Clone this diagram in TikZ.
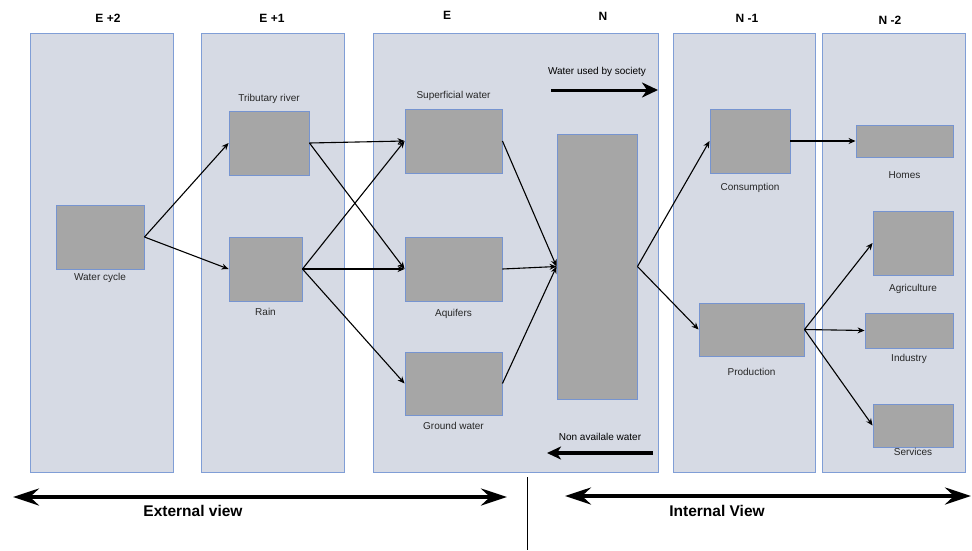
\documentclass[tikz,border=0pt]{standalone}
\usepackage{fontspec}
\setmainfont{Liberation Sans}
\usetikzlibrary{arrows.meta}

\definecolor{panelfill}{RGB}{214,218,228}
\definecolor{panelline}{RGB}{128,158,214}
\definecolor{boxfill}{RGB}{166,166,166}
\definecolor{boxline}{RGB}{118,148,208}

\begin{document}
\begin{tikzpicture}[x=1pt,y=-1pt,font=\fontsize{10}{12}\selectfont,
	panel/.style={fill=panelfill,draw=panelline,line width=1pt},
	box/.style={rectangle,fill=boxfill,draw=boxline,line width=0.9pt,inner sep=0pt},
	every label/.style={inner sep=0pt,text=black!85},
	head/.style={font=\fontsize{12}{14}\selectfont\bfseries},
	view/.style={font=\fontsize{15.5}{18}\selectfont\bfseries},
	edge/.style={line width=1.1pt,-{Stealth[length=7pt,width=6pt]}},
	bigarrow/.style={line width=4pt,{Stealth[length=26pt,width=17pt,inset=9pt]}-{Stealth[length=26pt,width=17pt,inset=9pt]}}]

			\useasboundingbox (0,0) rectangle (972,550);

			%panels
			\draw[panel] (30,33) rectangle (173,472);
			\draw[panel] (201,33) rectangle (344,472);
			\draw[panel] (373,33) rectangle (658,472);
			\draw[panel] (673,33) rectangle (815,472);
			\draw[panel] (822,33) rectangle (965,472);

			%headers
			\node[head] (h1) at (108,18) {E +2};
			\node[head] (h2) at (272,18) {E +1};
			\node[head] (h3) at (447,15) {E};
			\node[head] (h4) at (603,16) {N};
			\node[head] (h5) at (747,18) {N -1};
			\node[head] (h6) at (890,20) {N -2};

			%external nodes
			\node[box,minimum width=88pt,minimum height=64pt,label={[label distance=4pt]below:Water cycle}] (n1) at (100,237) {};
			\node[box,minimum width=80pt,minimum height=64pt,label={[label distance=7pt]above:Tributary river}] (n2) at (269,143) {};
			\node[box,minimum width=73pt,minimum height=64pt,label={[label distance=7pt]below:Rain}] (n3) at (265.5,269) {};

			%E nodes
			\node[box,minimum width=97pt,minimum height=64pt,label={[label distance=8pt]above:Superficial water}] (n4) at (453.5,141) {};
			\node[box,minimum width=97pt,minimum height=64pt,label={[label distance=8pt]below:Aquifers}] (n5) at (453.5,269) {};
			\node[box,minimum width=97pt,minimum height=63pt,label={[label distance=7pt]below:Ground water}] (n6) at (453.5,383.5) {};

			%N node
			\node[box,minimum width=80pt,minimum height=265pt] (n7) at (597,266.5) {};
			\node (t1) at (597,72) {Water used by society};
			\node (t2) at (600,437) {Non availale water};
			\coordinate (u1) at (551,90);
			\coordinate (u2) at (658,90);
			\coordinate (v1) at (653,453);
			\coordinate (v2) at (547,453);
			\draw[line width=3pt,-{Stealth[length=16pt,width=15pt,inset=5pt]}] (u1) -- (u2);
			\draw[line width=3.5pt,-{Stealth[length=14pt,width=13pt,inset=4pt]}] (v1) -- (v2);

			%internal nodes
			\node[box,minimum width=80pt,minimum height=64pt,label={[label distance=10pt]below:Consumption}] (n8) at (750,141) {};
			\node[box,minimum width=105pt,minimum height=53pt,label={[label distance=12pt]below:Production}] (n9) at (751.5,329.5) {};
			\node[box,minimum width=97pt,minimum height=32pt,label={[label distance=14pt]below:Homes}] (n10) at (904.5,141) {};
			\node[box,minimum width=80pt,minimum height=64pt,label={[label distance=9pt]below:Agriculture}] (n11) at (913,243) {};
			\node[box,minimum width=88pt,minimum height=35pt,label={[label distance=6pt]below:Industry}] (n12) at (909,330.5) {};
			\node[box,minimum width=80pt,minimum height=43pt,label={[label distance=1pt]below:Services}] (n13) at (913,425.5) {};

			%edges
			\draw[edge] (n1.east) -- (n2.west);
			\draw[edge] (n1.east) -- (n3.west);
			\draw[edge] (n2.east) -- (n4.west);
			\draw[edge] (n2.east) -- (n5.west);
			\draw[edge] (n3.east) -- (n4.west);
			\draw[edge] (n3.east) -- (n5.west);
			\draw[edge] (n3.east) -- (n6.west);
			\draw[edge] (n4.east) -- (n7.west);
			\draw[edge] (n5.east) -- (n7.west);
			\draw[edge] (n6.east) -- (n7.west);
			\draw[edge] (n7.east) -- (n8.west);
			\draw[edge] (n7.east) -- (n9.west);
			\draw[edge] (n8.east) -- (n10.west);
			\draw[edge] (n9.east) -- (n11.west);
			\draw[edge] (n9.east) -- (n12.west);
			\draw[edge] (n9.east) -- (n13.west);

			%views
			\coordinate (e1) at (13,497);
			\coordinate (e2) at (507,497);
			\coordinate (i1) at (565,496);
			\coordinate (i2) at (971,496);
			\draw[bigarrow] (e1) -- (e2);
			\draw[bigarrow] (i1) -- (i2);
			\node[view] (w1) at (193,511) {External view};
			\node[view] (w2) at (717,511) {Internal View};
			\coordinate (s1) at (527,477);
			\coordinate (s2) at (527,550);
			\draw[line width=1pt] (s1) -- (s2);
		\end{tikzpicture}
\end{document}
